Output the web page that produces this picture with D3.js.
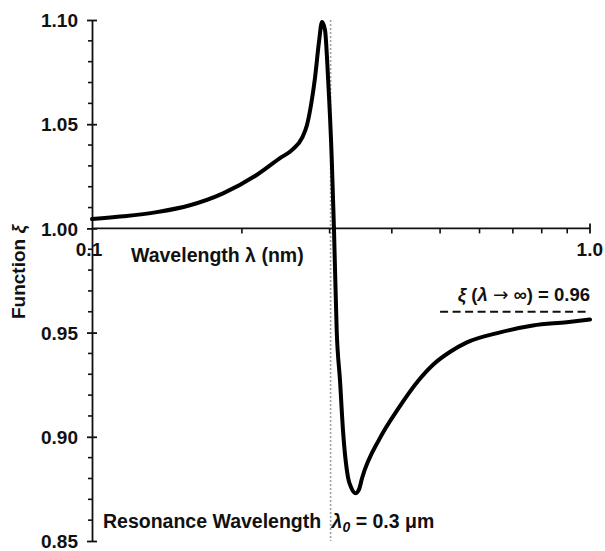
<!DOCTYPE html>
<html>
<head>
<meta charset="utf-8">
<script src="https://cdn.jsdelivr.net/npm/d3@7"></script>
<style>
  html, body { margin: 0; padding: 0; background: #fff; }
  svg { display: block; }
  text { font-family: "Liberation Sans", Arial, Helvetica, sans-serif; font-weight: bold; fill: #111; }
</style>
</head>
<body>
<svg id="chart" width="605" height="551"></svg>
<script>
// ---- Data ----
const wavelength = [0.100, 0.1156, 0.1349, 0.1573, 0.1833, 0.2141, 0.2385, 0.2533, 0.2641, 0.2702,
  0.2753, 0.2804, 0.2856, 0.2896, 0.2937, 0.2978, 0.3029, 0.3061, 0.3100, 0.3148, 0.3192,
  0.3268, 0.3313, 0.3381, 0.3437, 0.3485, 0.3788, 0.412, 0.452, 0.484, 0.524,
  0.566, 0.660, 0.768, 0.898, 1.000];
const xi = [1.0045, 1.0058, 1.0078, 1.0111, 1.0168, 1.0256, 1.0337, 1.0380, 1.0434, 1.0496,
  1.0592, 1.0722, 1.0894, 1.0990, 1.0952, 1.0726, 1.0342, 1.0000, 0.9510, 0.9269, 0.9029,
  0.8803, 0.8758, 0.8729, 0.8748, 0.8801, 0.8995, 0.9135, 0.9269, 0.9346, 0.9408,
  0.9453, 0.9501, 0.9534, 0.9550, 0.9563];
const yMajorTicks = [0.85, 0.90, 0.95, 1.00, 1.05, 1.10];
const yTickLabels = ["0.85", "0.90", "0.95", "1.00", "1.05", "1.10"];
const yMinorTicks = [0.86,0.87,0.88,0.89,0.91,0.92,0.93,0.94,0.96,0.97,0.98,0.99,1.01,1.02,1.03,1.04,1.06,1.07,1.08,1.09];
const xMinorTicks = [0.2, 0.3, 0.4, 0.5, 0.6, 0.7, 0.8, 0.9];
const xTickLabels = [{v: 0.1, t: "0.1"}, {v: 1.0, t: "1.0"}];
const resonance = 0.3;
const asymptote = 0.96;
const asymptoteStart = 0.5;

// ---- Scales ----
const svg = d3.select("#chart");
const x = d3.scaleLog().domain([0.1, 1.0]).range([92, 590]);
const y = d3.scaleLinear().domain([0.85, 1.10]).range([541, 20]);

// Resonance dotted line
svg.append("line")
  .attr("x1", x(resonance) + 1).attr("x2", x(resonance) + 1)
  .attr("y1", y(1.10)).attr("y2", y(0.85))
  .attr("stroke", "#a0a0a0").attr("stroke-width", 1.6)
  .attr("stroke-dasharray", "2,2");

// Y axis
const yAxis = d3.axisLeft(y).tickValues(yMajorTicks)
  .tickFormat((d, i) => yTickLabels[i]).tickSize(0).tickPadding(14);
const gy = svg.append("g").attr("transform", "translate(92,0)").call(yAxis);
gy.select(".domain").attr("stroke", "#111").attr("stroke-width", 1.8);
gy.selectAll(".tick text").style("font-size", "19px").attr("dy", "0.35em");
gy.selectAll(".tick").append("line").attr("x1", -5).attr("x2", 5)
  .attr("stroke", "#111").attr("stroke-width", 1.8);
svg.append("g").selectAll("line").data(yMinorTicks).join("line")
  .attr("x1", 88).attr("x2", 92)
  .attr("y1", d => y(d)).attr("y2", d => y(d))
  .attr("stroke", "#111").attr("stroke-width", 1.6);

// X axis at xi = 1.00
const gx = svg.append("g").attr("transform", `translate(0,${y(1.0)})`);
gx.append("line").attr("x1", x(0.1)).attr("x2", x(1.0))
  .attr("stroke", "#111").attr("stroke-width", 1.8);
gx.selectAll(".minor").data(xMinorTicks).join("line").attr("class", "minor")
  .attr("x1", d => x(d)).attr("x2", d => x(d)).attr("y1", 0).attr("y2", 5)
  .attr("stroke", "#111").attr("stroke-width", 1.6);
gx.append("line").attr("x1", x(1.0)).attr("x2", x(1.0)).attr("y1", -5).attr("y2", 5)
  .attr("stroke", "#111").attr("stroke-width", 1.8);
gx.selectAll(".xl").data(xTickLabels).join("text").attr("class", "xl")
  .attr("x", (d, i) => i === 0 ? x(d.v) - 3 : x(d.v) + 13)
  .attr("y", 28)
  .attr("text-anchor", (d, i) => i === 0 ? "middle" : "end")
  .style("font-size", "19px")
  .text(d => d.t);

// Axis titles
svg.append("text").attr("x", 131).attr("y", y(1.0) + 34)
  .style("font-size", "19.5px").text("Wavelength λ (nm)");
svg.append("text").attr("transform", `translate(25,${272}) rotate(-90)`)
  .attr("text-anchor", "middle").style("font-size", "19px")
  .html('Function <tspan font-style="italic">ξ</tspan>');

// Asymptote dashed line + label
svg.append("line").attr("x1", x(asymptoteStart)).attr("x2", x(1.0))
  .attr("y1", y(asymptote)).attr("y2", y(asymptote))
  .attr("stroke", "#111").attr("stroke-width", 2.2).attr("stroke-dasharray", "8,4.5");
svg.append("text").attr("x", x(1.0)).attr("y", y(asymptote) - 11)
  .attr("text-anchor", "end").style("font-size", "18.5px")
  .html('<tspan font-style="italic">ξ</tspan> (<tspan font-style="italic">λ</tspan> <tspan font-family="DejaVu Sans" font-weight="normal">→</tspan> ∞) = 0.96');

// Resonance label
svg.append("text").attr("x", 103).attr("y", 528).style("font-size", "19.5px")
  .html('Resonance Wavelength <tspan font-style="italic" dx="5">λ</tspan><tspan font-style="italic" font-size="14px" dy="4">0</tspan><tspan dy="-4"> = 0.3 μm</tspan>');

// Curve
const pts = wavelength.map((w, i) => [w, xi[i]]);
const line = d3.line().x(d => x(d[0])).y(d => y(d[1])).curve(d3.curveMonotoneX);
svg.append("path").datum(pts).attr("d", line)
  .attr("fill", "none").attr("stroke", "#000").attr("stroke-width", 4)
  .attr("stroke-linejoin", "round").attr("stroke-linecap", "round");
</script>
</body>
</html>
